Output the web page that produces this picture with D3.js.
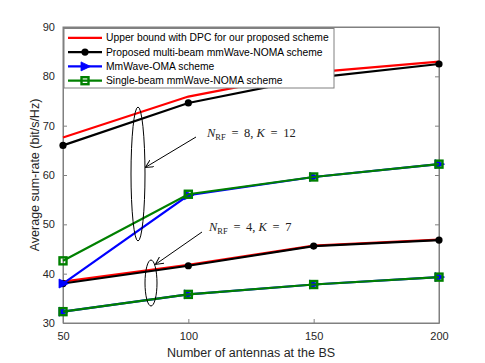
<!DOCTYPE html>
<html><head><meta charset="utf-8">
<script src="https://cdn.jsdelivr.net/npm/d3@7/dist/d3.min.js"></script>
<style>body{margin:0;background:#fff}svg{display:block}</style>
</head><body><svg id="c" width="485" height="363"></svg>
<script>
const antennas = [50, 100, 150, 200];
const xTicks = [50, 100, 150, 200];
const yTicks = [30, 40, 50, 60, 70, 80, 90];
// N_RF = 8, K = 12
const dpc8 = [67.6, 75.9, 80.8, 83.0];
const noma8 = [66.0, 74.6, 79.7, 82.5];
const oma8 = [38.0, 55.9, 59.6, 62.2];
const single8 = [42.6, 56.1, 59.6, 62.2];
// N_RF = 4, K = 7
const dpc4 = [38.4, 41.8, 45.7, 46.9];
const noma4 = [38.0, 41.6, 45.6, 46.8];
const oma4 = [32.3, 35.8, 37.8, 39.3];
const single4 = [32.3, 35.8, 37.8, 39.3];
const legendLabels = ["Upper bound with DPC for our proposed scheme",
  "Proposed multi-beam mmWave-NOMA scheme",
  "MmWave-OMA scheme",
  "Single-beam mmWave-NOMA scheme"];

const svg = d3.select("#c");
const L = 63, R = 439, T = 27, B = 323;
const x = d3.scaleLinear().domain([50, 200]).range([L, R]);
const y = d3.scaleLinear().domain([30, 90]).range([B, T]);
const axCol = "#808080", txtCol = "#262626";
const font = "'Liberation Sans', Arial, sans-serif";

// axes box
svg.append("rect").attr("x", L).attr("y", T).attr("width", R - L).attr("height", B - T)
  .attr("fill", "none").attr("stroke", axCol).attr("stroke-width", 1);
const gx = svg.append("g").attr("transform", `translate(0,${B})`)
  .call(d3.axisBottom(x).tickValues(xTicks).tickSizeInner(-4).tickSizeOuter(0).tickPadding(9));
const gxt = svg.append("g").attr("transform", `translate(0,${T})`)
  .call(d3.axisTop(x).tickValues(xTicks).tickSizeInner(-4).tickSizeOuter(0).tickFormat(""));
const gy = svg.append("g").attr("transform", `translate(${L},0)`)
  .call(d3.axisLeft(y).tickValues(yTicks).tickSizeInner(-4).tickSizeOuter(0).tickPadding(8));
const gyr = svg.append("g").attr("transform", `translate(${R},0)`)
  .call(d3.axisRight(y).tickValues(yTicks).tickSizeInner(-4).tickSizeOuter(0).tickFormat(""));
[gx, gxt, gy, gyr].forEach(g => {
  g.select(".domain").attr("stroke", axCol);
  g.selectAll(".tick line").attr("stroke", axCol);
  g.selectAll("text").attr("fill", txtCol).style("font-family", font).style("font-size", "11px");
});

svg.append("text").attr("x", 251).attr("y", 357).attr("text-anchor", "middle")
  .style("font-family", font).style("font-size", "12.5px").attr("fill", txtCol)
  .text("Number of antennas at the BS");
svg.append("text").attr("transform", "translate(39,175) rotate(-90)").attr("text-anchor", "middle")
  .style("font-family", font).style("font-size", "12.5px").attr("fill", txtCol)
  .text("Average sum-rate (bit/s/Hz)");

const line = d3.line().x((d, i) => x(antennas[i])).y(d => y(d));
const series = [
  {v: dpc4, c: "#ff0000", m: null}, {v: noma4, c: "#000000", m: "circle"},
  {v: oma4, c: "#0000ff", m: "tri"}, {v: single4, c: "#008000", m: "square"},
  {v: dpc8, c: "#ff0000", m: null}, {v: noma8, c: "#000000", m: "circle"},
  {v: oma8, c: "#0000ff", m: "tri"}, {v: single8, c: "#008000", m: "square"}
];
function marker(g, type, c, cx, cy) {
  if (type === "circle") g.append("circle").attr("cx", cx).attr("cy", cy).attr("r", 3.6).attr("fill", c);
  else if (type === "tri") g.append("path").attr("d", `M${cx-4},${cy-4.5}L${cx-4},${cy+4.5}L${cx+5.5},${cy}Z`).attr("fill", c).attr("stroke", c).attr("stroke-width", 0.8);
  else if (type === "square") g.append("rect").attr("x", cx - 3.5).attr("y", cy - 3.5).attr("width", 7).attr("height", 7).attr("fill", "none").attr("stroke", c).attr("stroke-width", 2.4);
}
const plot = svg.append("g");
series.forEach(s => {
  plot.append("path").attr("d", line(s.v)).attr("fill", "none").attr("stroke", s.c).attr("stroke-width", 2.2);
  if (s.m) s.v.forEach((d, i) => marker(plot, s.m, s.c, x(antennas[i]), y(d)));
});

// annotations
const ann = svg.append("g");
ann.append("ellipse").attr("cx", 138).attr("cy", 174).attr("rx", 7).attr("ry", 67)
  .attr("fill", "none").attr("stroke", "#000").attr("stroke-width", 1);
ann.append("ellipse").attr("cx", 151).attr("cy", 283).attr("rx", 6).attr("ry", 23)
  .attr("fill", "none").attr("stroke", "#000").attr("stroke-width", 1);
svg.append("defs").append("marker").attr("id", "ah").attr("viewBox", "0 0 10 10")
  .attr("refX", 9).attr("refY", 5).attr("markerWidth", 8).attr("markerHeight", 8)
  .attr("orient", "auto").attr("markerUnits", "userSpaceOnUse")
  .append("path").attr("d", "M0,0L10,5L0,10").attr("fill", "none").attr("stroke", "#000").attr("stroke-width", 1.2);
ann.append("line").attr("x1", 196).attr("y1", 137).attr("x2", 146).attr("y2", 167)
  .attr("stroke", "#000").attr("stroke-width", 1).attr("marker-end", "url(#ah)");
ann.append("line").attr("x1", 202).attr("y1", 232).attr("x2", 156).attr("y2", 264)
  .attr("stroke", "#000").attr("stroke-width", 1).attr("marker-end", "url(#ah)");
function annText(xp, yp, n, k) {
  const t = ann.append("text").attr("x", xp).attr("y", yp)
    .style("font-family", "'Liberation Serif', 'DejaVu Serif', serif").style("font-size", "12.5px").attr("fill", "#222");
  t.append("tspan").style("font-style", "italic").text("N");
  t.append("tspan").attr("dy", 2.5).style("font-size", "8.5px").text("RF");
  t.append("tspan").attr("dy", -2.5).text(" \u2009=\u2009 " + n + ", ");
  t.append("tspan").style("font-style", "italic").text("K");
  t.append("tspan").text(" \u2009=\u2009 " + k);
}
annText(207, 137, 8, 12);
annText(209, 231, 4, 7);

// legend
const lg = svg.append("g");
lg.append("rect").attr("x", 64).attr("y", 28.5).attr("width", 270).attr("height", 59.5)
  .attr("fill", "#fff").attr("stroke", axCol).attr("stroke-width", 1);
const legItems = [{c: "#ff0000", m: null}, {c: "#000000", m: "circle"}, {c: "#0000ff", m: "tri"}, {c: "#008000", m: "square"}];
legItems.forEach((it, i) => {
  const yy = 37.8 + i * 14.3;
  lg.append("line").attr("x1", 68).attr("x2", 102).attr("y1", yy).attr("y2", yy).attr("stroke", it.c).attr("stroke-width", 2.2);
  if (it.m) marker(lg, it.m, it.c, 85, yy);
  lg.append("text").attr("x", 106).attr("y", yy + 3.6).style("font-family", font).style("font-size", "10.3px")
    .attr("fill", "#000").text(legendLabels[i]);
});
</script></body></html>
